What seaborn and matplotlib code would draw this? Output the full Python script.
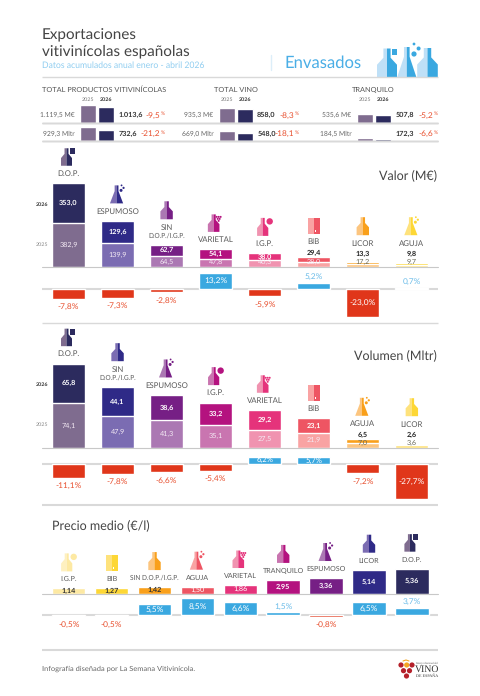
import matplotlib
matplotlib.use('Agg')
import matplotlib.pyplot as plt
import seaborn as sns
import pandas as pd
from matplotlib.patches import Circle, Polygon, Rectangle

totals_titles = ['TOTAL PRODUCTOS VITIVINÍCOLAS', 'TOTAL VINO', 'TRANQUILO']
value_2025 = [1119.5, 935.3, 535.6]
value_2026 = [1013.6, 858.0, 507.8]
value_change = [-9.5, -8.3, -5.2]
volume_2025 = [929.3, 669.0, 184.5]
volume_2026 = [732.6, 548.0, 172.3]
volume_change = [-21.2, -18.1, -6.6]

valor_cats = ['D.O.P.', 'ESPUMOSO', 'SIN\nD.O.P./I.G.P.', 'VARIETAL', 'I.G.P.', 'BIB', 'LICOR', 'AGUJA']
valor_2025 = [382.9, 139.9, 64.5, 47.8, 40.3, 28.0, 17.2, 9.7]
valor_2026 = [353.0, 129.6, 62.7, 54.1, 38.0, 29.4, 13.3, 9.8]
valor_pct = [-7.8, -7.3, -2.8, 13.2, -5.9, 5.2, -23.0, 0.7]

vol_cats = ['D.O.P.', 'SIN\nD.O.P./I.G.P.', 'ESPUMOSO', 'I.G.P.', 'VARIETAL', 'BIB', 'AGUJA', 'LICOR']
vol_2025 = [74.1, 47.9, 41.3, 35.1, 27.5, 21.9, 7.0, 3.6]
vol_2026 = [65.8, 44.1, 38.6, 33.2, 29.2, 23.1, 6.5, 2.6]
vol_pct = [-11.1, -7.8, -6.6, -5.4, 6.2, 5.7, -7.2, -27.7]

precio_cats = ['I.G.P.', 'BIB', 'SIN D.O.P./I.G.P.', 'AGUJA', 'VARIETAL', 'TRANQUILO', 'ESPUMOSO', 'LICOR', 'D.O.P.']
precio_vals = [1.14, 1.27, 1.42, 1.50, 1.86, 2.95, 3.36, 5.14, 5.36]
precio_pct = [-0.5, -0.5, 5.5, 8.5, 6.6, 1.5, -0.8, 6.5, 3.7]

# colours (2025 tone, 2026 tone), from the biggest bar to the smallest
tones = [('#7f6c8f', '#2c2b5e'), ('#7b6cb2', '#2f2a87'), ('#ab78b3', '#761f85'),
         ('#c975b0', '#b4127f'), ('#f093b0', '#e5337b'), ('#f9a3a3', '#ee5563'),
         ('#fcc57f', '#f9a01b'), ('#fee27c', '#fdd735')]
pale = ('#fef0c0', '#fde9a3')
RED = '#e0361a'
BLUE = '#3aa8e0'
RED_TXT = '#e8502f'
BLUE_TXT = '#6dbde9'
GREY = '#4a4a4a'
RULE = '#d9d9d9'

sns.set_theme(style='white')
plt.rcParams['font.family'] = ['Lato', 'DejaVu Sans']
# small commas vanish with hinting on
plt.rcParams['text.hinting'] = 'no_hinting'

W, H = 480, 696
fig = plt.figure(figsize=(W / 100, H / 100), dpi=100, facecolor='white')

# overlay in pixel coordinates for the text and the little bottles
fg = fig.add_axes([0, 0, 1, 1], zorder=5)
fg.set_xlim(0, W)
fg.set_ylim(H, 0)
fg.axis('off')


def panel_axes(x0, x1, top, bottom):
    return fig.add_axes([x0 / W, 1 - bottom / H, (x1 - x0) / W, (bottom - top) / H])


def txt(x, y, s, size=6, color=GREY, weight='normal', ha='center'):
    fg.text(x, y, s, fontsize=size, color=color, fontweight=weight, ha=ha, va='center')


def rule(y, lw=1.0):
    fg.plot([42, 438], [y, y], color=RULE, lw=lw, solid_capstyle='butt')


def half_shapes(cx, bottom, h, hw, flask):
    if flask:
        pts = [(0, 1), (0.32, 1), (0.32, 0.68), (1.1, 0), (0, 0)]
    else:
        pts = [(0, 1), (0.36, 1), (0.36, 0.68), (1, 0.44), (1, 0), (0, 0)]
    left = [(cx - x * hw, bottom - y * h) for x, y in pts]
    right = [(cx + x * hw, bottom - y * h) for x, y in pts]
    return left, right


def bottle(cx, bottom, h, hw, light, dark, flask=False):
    left, right = half_shapes(cx, bottom, h, hw, flask)
    fg.add_patch(Polygon(left, color=light, lw=0))
    fg.add_patch(Polygon(right, color=dark, lw=0))


def icon(name, cx, bottom, light, dark):
    name = name.replace('\n', ' ')
    if name == 'BIB':
        fg.add_patch(Rectangle((cx - 6, bottom - 15.5), 6, 15.5, color=light, lw=0))
        fg.add_patch(Rectangle((cx, bottom - 15.5), 6, 15.5, color=dark, lw=0))
        fg.add_patch(Rectangle((cx + 1, bottom - 4), 1.2, 2.2, color='white', lw=0))
    elif name in ('ESPUMOSO', 'AGUJA'):
        bottle(cx - 1, bottom, 18, 6, light, dark, flask=True)
        for dx, dy, r in [(4.5, 13, 1.5), (7, 15.5, 1.1), (5, 18, 0.9)]:
            fg.add_patch(Circle((cx - 1 + dx, bottom - dy), r, color=dark, lw=0))
    elif name == 'D.O.P.':
        bottle(cx - 2, bottom, 17.5, 5.5, light, dark)
        fg.add_patch(Rectangle((cx + 1.5, bottom - 17.5), 4.5, 6, color=dark, lw=0))
    elif name == 'VARIETAL':
        bottle(cx - 2, bottom, 17.5, 5.8, light, dark)
        for dx, dy in [(3, 15), (5, 15), (7, 15), (4, 13), (6, 13), (5, 11)]:
            fg.add_patch(Circle((cx - 2 + dx, bottom - dy), 1.0, color=dark, lw=0))
    elif name == 'I.G.P.':
        bottle(cx - 2, bottom, 18, 5.6, light, dark)
        fg.add_patch(Circle((cx + 5, bottom - 14.5), 3.2, color=dark, lw=0))
    else:
        bottle(cx, bottom, 18, 6.2, light, dark)


def name_and_icon(name, cx, first_y, tone, size=5.6):
    lines = name.split('\n')
    for k, line in enumerate(lines):
        # the long D.O.P./I.G.P. label comes out too wide in this font
        s = 4.7 if 'D.O.P./' in line else size
        txt(cx, first_y + k * 8.3, line, size=s, color='#5a5a5a')
    icon(name, cx, first_y - 8, tone[0], tone[1])


def fmt(v, dec=1):
    return f'{v:.{dec}f}'.replace('.', ',')


def stacked_panel(cats, v25, v26, factors, px_unit, top, base, x_first, x_step, bar_w):
    # the tallest bar of each block is shortened in the original, factors keep that
    df = pd.DataFrame({'cat': cats,
                       'y25': [a * f for a, f in zip(v25, factors)],
                       'y26': [b * f for b, f in zip(v26, factors)]})
    df['total'] = df['y25'] + df['y26']
    ax = panel_axes(42, 438, top, base)
    sns.barplot(data=df, x='cat', y='total', hue='cat', palette=[t[1] for t in tones], dodge=False,
                legend=False, width=bar_w / x_step, saturation=1, ax=ax)
    sns.barplot(data=df, x='cat', y='y25', hue='cat', palette=[t[0] for t in tones], dodge=False,
                legend=False, width=bar_w / x_step, saturation=1, ax=ax)
    ax.set_xlim((42 - x_first) / x_step, (438 - x_first) / x_step)
    ax.set_ylim(0, (base - top) / px_unit)
    ax.axis('off')
    fg.plot([42, 438], [base, base], color='#c8c8c8', lw=0.8, zorder=1)
    for i, cat in enumerate(cats):
        cx = x_first + i * x_step
        h25 = df['y25'][i] * px_unit
        h26 = df['y26'][i] * px_unit
        bar_top = base - h25 - h26
        dark_txt = i >= 6
        y25 = min(base - h25 / 2, base - 4.8)
        txt(cx, y25, fmt(v25[i]), size=5.2, color='#6a6a5a' if dark_txt else '#f4eaf4')
        if h26 < 6:
            y_val = min(bar_top - 4, base - 12.5)
            txt(cx, y_val, fmt(v26[i]), size=5.2, color='#222222', weight='bold')
            label_y = y_val - 11
        else:
            txt(cx, base - h25 - h26 / 2, fmt(v26[i]), size=5.2, color='white', weight='bold')
            label_y = bar_top - 9.5
        n = cat.count('\n')
        name_and_icon(cat, cx, label_y - n * 8.3, tones[i])


def pct_panel(cats, pct, px_unit, top, zero, bottom, x_first, x_step, bar_w, inside_min):
    df = pd.DataFrame({'cat': cats, 'pct': pct})
    df['sign'] = ['up' if v >= 0 else 'down' for v in pct]
    ax = panel_axes(42, 438, top, bottom)
    ax.axhline(0, color=RULE, lw=1.5, zorder=0)
    sns.barplot(data=df, x='cat', y='pct', hue='sign', palette={'up': BLUE, 'down': RED}, dodge=False,
                legend=False, width=bar_w / x_step, saturation=1, ax=ax)
    ax.set_xlim((42 - x_first) / x_step, (438 - x_first) / x_step)
    ax.set_ylim(-(bottom - zero) / px_unit, (zero - top) / px_unit)
    ax.axis('off')
    for i, v in enumerate(pct):
        cx = x_first + i * x_step
        s = fmt(v) + '%'
        h = abs(v) * px_unit
        if v >= 0:
            if v >= inside_min:
                txt(cx, zero - h / 2 - 0.4, s, size=5.6 if h < 10 else 6, color='white')
            else:
                txt(cx, zero - h - 6, s, size=6, color=BLUE_TXT)
        else:
            if v <= -20:
                txt(cx, zero + h / 2, s, size=6, color='white')
            else:
                txt(cx, zero + h + 8, s, size=6, color=RED_TXT)


# --- header ---
txt(42, 35, 'Exportaciones', size=11, color='#444444', ha='left')
txt(42, 51, 'vitivinícolas españolas', size=11, color='#444444', ha='left')
txt(42, 65.5, 'Datos acumulados anual enero - abril 2026', size=6.2, color='#8fcdf0', ha='left')
txt(284.5, 63, 'Envasados', size=12, color='#4aaee6', ha='left')
fg.plot([270.5, 270.5], [55, 70], color='#dcEEf9', lw=1)
rule(77.3)

light_blue, mid_blue = '#bfe0f7', BLUE
bottle(387, 77.5, 29, 10, light_blue, mid_blue)
bottle(406.8, 77.5, 30.5, 8.8, light_blue, mid_blue, flask=True)
bottle(427.5, 77.5, 29.5, 10.3, light_blue, mid_blue)
fg.add_patch(Rectangle((392, 48.5), 4.5, 6.5, color=mid_blue, lw=0))
for bx, by, br in [(414, 44, 1.4), (418.6, 48.5, 2.0), (414, 54, 2.6)]:
    fg.add_patch(Circle((bx, by), br, color=mid_blue, lw=0))

# --- the three totals ---
group_left = [80, 218.7, 357]
group_title_x = [42, 213.5, 352]
pct_end = [164.5, 298.5, 437.5]
units = [(' M€', value_2025, value_2026, value_change, 122.7),
         (' Mltr', volume_2025, volume_2026, volume_change, 141.3)]
totals_px = 0.0155

for g, title in enumerate(totals_titles):
    x0 = group_left[g]
    txt(group_title_x[g], 90, title, size=5.35, color='#555555', ha='left')
    txt(x0 + 8, 100, '2025', size=3.9, color='#777777')
    txt(x0 + 26, 100, '2026', size=3.9, color='#333333', weight='bold')
    for unit, old, new, change, base in units:
        df = pd.DataFrame({'year': ['2025', '2026'], 'v': [old[g], new[g]]})
        ax = panel_axes(x0 - 1, x0 + 35, base - 20, base)
        sns.barplot(data=df, x='year', y='v', hue='year', palette=[tones[0][0], tones[0][1]], dodge=False,
                    legend=False, width=0.9, saturation=1, ax=ax)
        ax.set_xlim(-0.5, 1.5)
        ax.set_ylim(0, 20 / totals_px)
        ax.axis('off')
        rule(base)
        y = base - 7.4
        left_s = f'{old[g]:,.1f}'.replace(',', 'X').replace('.', ',').replace('X', '.')
        right_s = f'{new[g]:,.1f}'.replace(',', 'X').replace('.', ',').replace('X', '.')
        txt(x0 - 5.5, y, left_s + unit, size=4.9, color='#666666', ha='right')
        txt(x0 + 38.5, y, right_s, size=5.2, color='#333333', weight='bold', ha='left')
        txt(pct_end[g] - 4, y, fmt(change[g]), size=6, color=RED_TXT, ha='right')
        txt(pct_end[g] - 4, y - 1.5, '%', size=3.6, color=RED_TXT, ha='left')

# --- Valor ---
valor_factor = [0.667, 1, 1, 1, 1, 1, 1, 1]
stacked_panel(valor_cats, valor_2025, valor_2026, valor_factor, 0.17, 145, 266.7, 68.5, 49.05, 33)
pct_panel(valor_cats, valor_pct, 1.22, 268, 289, 322, 68.5, 49.05, 33, 10)
rule(323.3)
txt(437, 175, 'Valor (M€)', size=9, color='#444444', ha='right')
txt(36, 205, '2026', size=3.9, color='#333333', weight='bold', ha='left')
txt(36, 244.3, '2025', size=3.9, color='#888888', ha='left')

# --- Volumen ---
vol_factor = [0.91, 1, 1, 1, 1, 1, 1, 1]
stacked_panel(vol_cats, vol_2025, vol_2026, vol_factor, 0.66, 330, 447.7, 68.5, 49.05, 33)
pct_panel(vol_cats, vol_pct, 1.24, 449, 464.3, 504, 68.5, 49.05, 33, 5)
rule(505, lw=1.5)
txt(437, 355.7, 'Volumen (Mltr)', size=9, color='#444444', ha='right')
txt(36, 385, '2026', size=3.9, color='#333333', weight='bold', ha='left')
txt(36, 424.3, '2025', size=3.9, color='#888888', ha='left')

# --- Precio medio ---
txt(52, 525, 'Precio medio (€/l)', size=9, color='#444444', ha='left')
precio_tones = [pale, tones[7], tones[6], tones[5], tones[4], tones[3], tones[2], tones[1], tones[0]]
df = pd.DataFrame({'cat': precio_cats, 'v': precio_vals})
ax = panel_axes(42, 438, 540, 593.7)
sns.barplot(data=df, x='cat', y='v', hue='cat', palette=[t[1] for t in precio_tones], dodge=False,
            legend=False, width=33.5 / 42.9, saturation=1, ax=ax)
ax.set_xlim((42 - 68.7) / 42.9, (438 - 68.7) / 42.9)
ax.set_ylim(0, (593.7 - 540) / 4.67)
ax.axis('off')
fg.plot([42, 438], [593.7, 593.7], color='#c8c8c8', lw=0.8, zorder=1)
for i, cat in enumerate(precio_cats):
    cx = 68.7 + i * 42.9
    h = precio_vals[i] * 4.67
    dark = i < 3
    txt(cx, 593.7 - max(h / 2, 3.2), fmt(precio_vals[i], 2), size=5.2,
        color='#333333' if dark else 'white', weight='bold' if dark or i > 4 else 'normal')
    name_and_icon(cat, cx, 593.7 - h - 9, precio_tones[i], size=5.1)
pct_panel(precio_cats, precio_pct, 2.0, 596, 615.3, 649, 68.7, 42.9, 33.5, 5)
rule(650, lw=1.5)

# --- footer ---
txt(42, 668.3, 'Infografía diseñada por La Semana Vitivinícola.', size=5.4, color='#666666', ha='left')
for gx, gy, gc in [(401, 665, '#b5202a'), (406.7, 665, '#f5a623'), (412, 665, '#b5202a'),
                   (403.5, 670.7, '#b5202a'), (409.5, 670.7, '#b5202a'), (406.5, 676, '#b5202a')]:
    fg.add_patch(Circle((gx, gy), 2.6, color=gc, lw=0))
fg.plot([403, 406, 409], [661, 660, 661], color='#f5a623', lw=0.8)
fg.text(427, 662.5, 'Interprofesional del', fontsize=2, family=['Liberation Serif'], color='#555555', ha='center', va='center')
fg.text(427, 669.3, 'VINO', fontsize=7, family=['Liberation Serif'], color='#333333', ha='center', va='center')
fg.text(427, 675.5, 'DE ESPAÑA', fontsize=3, family=['Liberation Serif'], color='#333333', ha='center', va='center')

fig.savefig('out.png', dpi=100, facecolor='white')
